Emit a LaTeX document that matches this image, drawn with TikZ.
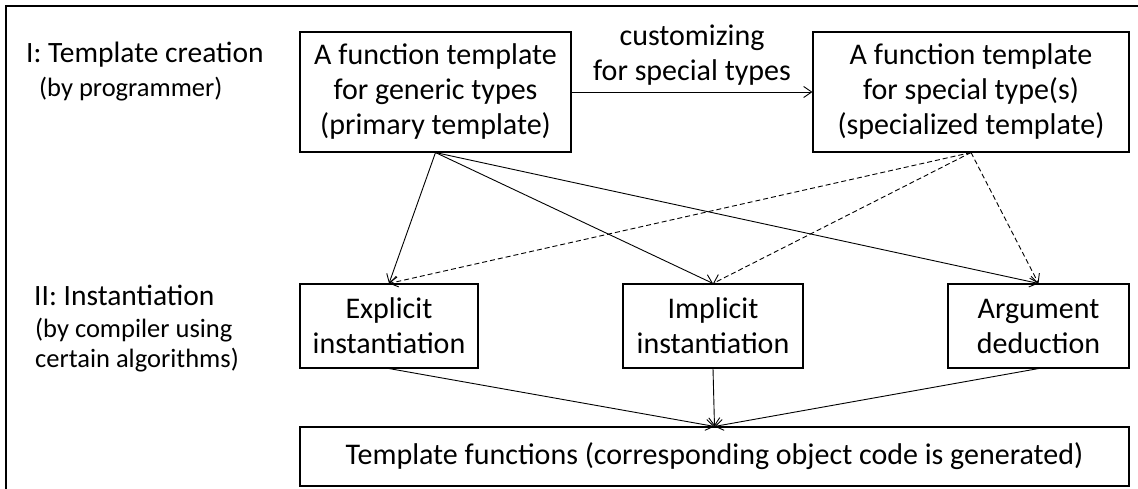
\documentclass[tikz,border=0pt]{standalone}
\usepackage{fontspec}
\setmainfont{Carlito}
\usetikzlibrary{arrows.meta}

\begin{document}
\begin{tikzpicture}[x=1pt, y=-1pt,
		box/.style={draw, line width=1.1pt, align=center, inner sep=0pt,
			font=\fontsize{30}{35}\selectfont},
		lab/.style={anchor=base west, inner sep=0pt, font=\fontsize{29.5}{35}\selectfont},
		sublab/.style={anchor=base west, inner sep=0pt, font=\fontsize{26.5}{31}\selectfont},
		conn/.style={line width=0.9pt, -{Straight Barb[length=8pt,width=11pt]}}]

		\useasboundingbox (0,0) rectangle (1138,489);
		\draw[line width=2.5pt] (6,489) -- (6,6) -- (1138,6);

		% stages
		\node[lab] (stage1) at (26,63) {I: Template creation};
		\node[sublab] (who1) at (39,97) {(by programmer)};
		\node[lab] (stage2) at (34,305) {II: Instantiation};
		\node[sublab] (who2a) at (35,337) {(by compiler using};
		\node[sublab] (who2b) at (35,367) {certain algorithms)};

		% templates
		\node[box, minimum width=271pt, minimum height=120pt] (prim) at (435.5,92)
			{A function template\\for generic types\\(primary template)};
		\node[box, minimum width=316pt, minimum height=120pt] (spec) at (971,92)
			{A function template\\for special type(s)\\(specialized template)};

		% instantiation
		\node[box, minimum width=178pt, minimum height=84pt] (expl) at (389,326)
			{Explicit\\instantiation};
		\node[box, minimum width=180pt, minimum height=84pt] (impl) at (713,326)
			{Implicit\\instantiation};
		\node[box, minimum width=181pt, minimum height=84pt] (argd) at (1038.5,326)
			{Argument\\deduction};

		\node[box, minimum width=829pt, minimum height=59pt] (func) at (714.5,456.5)
			{Template functions (corresponding object code is generated)};

		\draw[conn] (prim) -- (spec) node[midway, above=3pt, align=center,
			font=\fontsize{30}{35}\selectfont] (cust) {customizing\\for special types};

		\foreach \t in {expl, impl, argd}
			{
				\draw[conn] (prim.south) -- (\t.north);
				\draw[conn, dash pattern=on 5pt off 3pt] (spec.south) -- (\t.north);
				\draw[conn] (\t.south) -- (func.north);
			}

	\end{tikzpicture}
\end{document}
